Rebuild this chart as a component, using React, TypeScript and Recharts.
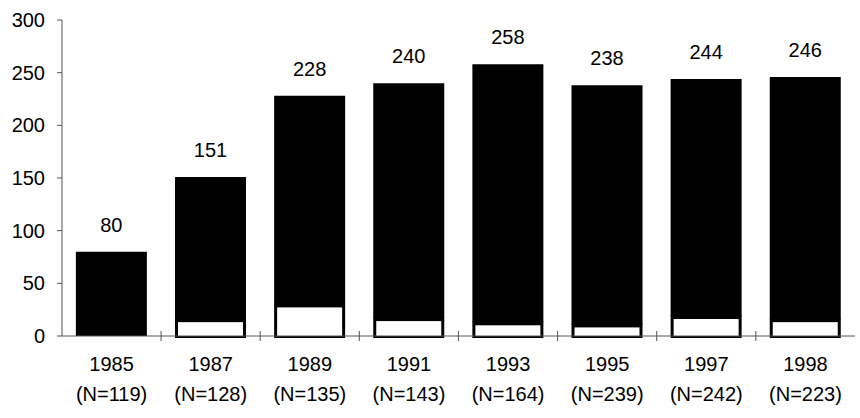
import { Bar, BarChart, LabelList, XAxis, YAxis } from "recharts";

const years = ["1985", "1987", "1989", "1991", "1993", "1995", "1997", "1998"];
const sampleSizes = [119, 128, 135, 143, 164, 239, 242, 223];
const totals = [80, 151, 228, 240, 258, 238, 244, 246];
const whiteParts = [0, 16, 30, 17, 13, 11, 19, 16];
const yTicks = [0, 50, 100, 150, 200, 250, 300];

const data = years.map((y, i) => ({
  year: y,
  n: sampleSizes[i],
  total: totals[i],
  white: whiteParts[i],
  black: totals[i] - whiteParts[i],
}));

const FONT = "'Liberation Sans', Arial, sans-serif";

const YearTick = ({ x, y, payload, index }: any) => (
  <g transform={`translate(${x},${y})`}>
    {index < years.length - 1 && (
      <line x1={49.5} x2={49.5} y1={-13} y2={-3} stroke="#555" strokeWidth={1} />
    )}
    <text x={0} y={27} textAnchor="middle" fontSize={20} fontFamily={FONT} fill="#000">
      {payload.value}
    </text>
    <text x={0} y={57} textAnchor="middle" fontSize={20} fontFamily={FONT} fill="#000">
      {`(N=${sampleSizes[index]})`}
    </text>
  </g>
);

// black frame with a white inset box
const WhiteBox = ({ x, y, width, height }: any) => {
  if (!height || height <= 0) return null;
  const b = 3;
  return (
    <g>
      <rect x={x} y={y - 1} width={width} height={height + 3} fill="#000" />
      <rect x={x + b} y={y + b} width={width - 2 * b} height={Math.max(0, height - b)} fill="#fff" />
    </g>
  );
};

export default function App() {
  return (
    <div style={{ position: "absolute", left: 0, top: 0, background: "#fff" }}>
      <BarChart
        width={860}
        height={418}
        data={data}
        margin={{ top: 20, right: 5, bottom: 0, left: 0 }}
        barCategoryGap="14%"
      >
        <XAxis
          dataKey="year"
          height={82}
          tickLine={false}
          axisLine={{ stroke: "#555", strokeWidth: 1 }}
          tick={<YearTick />}
          interval={0}
        />
        <YAxis
          width={62}
          domain={[0, 300]}
          ticks={yTicks}
          tickSize={5}
          tickMargin={12}
          axisLine={{ stroke: "#555", strokeWidth: 1 }}
          tickLine={{ stroke: "#555" }}
          tick={{ fill: "#000", fontSize: 20, fontFamily: FONT }}
        />
        <Bar dataKey="white" stackId="a" shape={<WhiteBox />} isAnimationActive={false} />
        <Bar dataKey="black" stackId="a" fill="#000" isAnimationActive={false}>
          <LabelList
            dataKey="total"
            position="top"
            offset={20}
            fill="#000"
            fontSize={20}
            fontFamily={FONT}
          />
        </Bar>
      </BarChart>
    </div>
  );
}
